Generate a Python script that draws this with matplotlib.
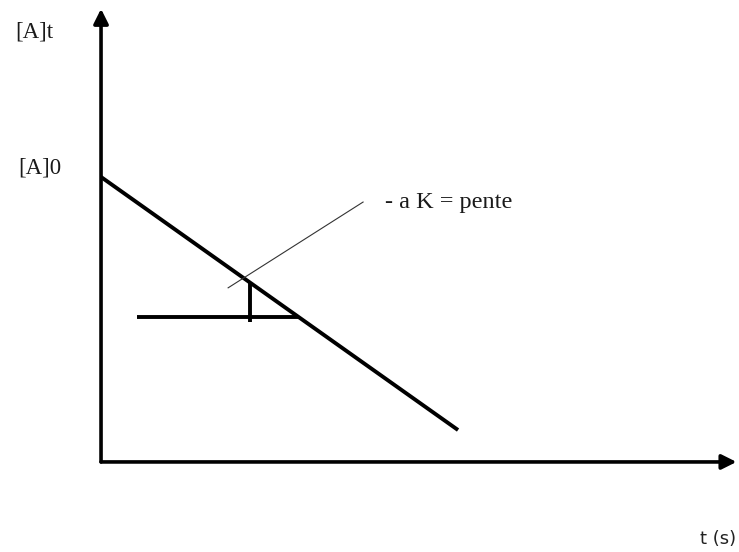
import matplotlib.pyplot as plt

# concentration decreasing linearly with time
t = [0, 10]
conc = [10, 1.12]

# slope triangle drawn under the line
tri_h_t = [1.0, 5.53]
tri_h_c = [5.09, 5.09]
tri_v_t = [4.17, 4.17]
tri_v_c = [6.30, 4.91]

# leader line pointing at the triangle
lead_t = [3.56, 7.34]
lead_c = [6.11, 9.12]

fig = plt.figure(figsize=(7.39, 5.52), dpi=100)
ax = fig.add_axes([0, 0, 1, 1])
ax.set_xlim(-2.83, 17.87)
ax.set_ylim(-3.16, 16.21)
ax.axis('off')

# axes with arrow heads
ax.annotate('', xy=(0, 15.9), xytext=(0, 0),
            arrowprops=dict(arrowstyle='-|>', lw=2.6, color='black',
                            mutation_scale=22, shrinkA=0, shrinkB=0))
ax.annotate('', xy=(17.8, 0), xytext=(0, 0),
            arrowprops=dict(arrowstyle='-|>', lw=2.6, color='black',
                            mutation_scale=22, shrinkA=0, shrinkB=0))

ax.plot(t, conc, color='black', lw=2.8, solid_capstyle='butt')
ax.plot(tri_h_t, tri_h_c, color='black', lw=2.8, solid_capstyle='butt')
ax.plot(tri_v_t, tri_v_c, color='black', lw=2.8, solid_capstyle='butt')
ax.plot(lead_t, lead_c, color='#333333', lw=0.8)

serif = 'Liberation Serif'
ax.text(-2.41, 15.1, '[A]t', family=serif, fontsize=16.5, va='center', ha='left',
        color='#1a1a1a')
ax.text(-2.32, 10.3, '[A]0', family=serif, fontsize=16.5, va='center', ha='left',
        color='#1a1a1a')
ax.text(7.96, 9.1, '- a K = pente', family=serif, fontsize=17.5, va='center', ha='left',
        color='#1a1a1a')
ax.text(16.78, -2.72, 't (s)', family='DejaVu Sans', fontsize=13, va='center', ha='left',
        color='#222222')

fig.savefig('out.png', dpi=100)
